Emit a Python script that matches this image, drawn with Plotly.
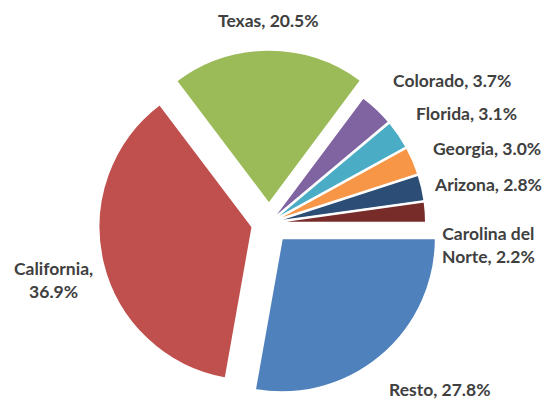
import plotly.graph_objects as go

labels = ["Resto", "California", "Texas", "Colorado", "Florida", "Georgia", "Arizona", "Carolina del Norte"]
values = [27.8, 36.9, 20.5, 3.7, 3.1, 3.0, 2.8, 2.2]
label_text = ["Resto, 27.8%", "California,<br>36.9%", "Texas, 20.5%", "Colorado, 3.7%",
              "Florida, 3.1%", "Georgia, 3.0%", "Arizona, 2.8%", "Carolina del<br>Norte, 2.2%"]
colors = ["#4F81BD", "#C0504D", "#9BBB59", "#8064A2", "#4BACC6", "#F79646", "#2C4D75", "#772C2A"]
pulls = [0.13, 0.11, 0.125, 0.02, 0.02, 0.02, 0.02, 0.02]

# label centres in pixels (x, y from top)
label_pos = [(440, 389), (53, 280), (268, 20), (452, 80), (466, 113), (487, 148), (488, 185), (488, 245)]

W, H = 545, 402
CX, CY, HALF = 269, 223, 174

fig = go.Figure(go.Pie(
    labels=labels,
    values=values,
    sort=False,
    direction="clockwise",
    rotation=90,
    pull=pulls,
    marker=dict(colors=colors, line=dict(color="white", width=2)),
    textinfo="none",
    hoverinfo="label+percent",
    showlegend=False,
    domain=dict(x=[(CX - HALF) / W, (CX + HALF) / W],
                y=[max(0, 1 - (CY + HALF) / H), min(1, 1 - (CY - HALF) / H)]),
))

annotations = []
for txt, (px, py) in zip(label_text, label_pos):
    annotations.append(dict(
        x=px / W, y=1 - py / H, xref="paper", yref="paper",
        text=txt, showarrow=False, xanchor="center", yanchor="middle",
        align="center",
        font=dict(family="Lato", size=17.5, color="#404040", weight="bold"),
    ))

fig.update_layout(
    width=W, height=H,
    margin=dict(l=0, r=0, t=0, b=0),
    paper_bgcolor="white",
    plot_bgcolor="white",
    annotations=annotations,
)

fig.write_html("out.html", config={"displayModeBar": False},
               post_script="document.body.style.margin='0';")
